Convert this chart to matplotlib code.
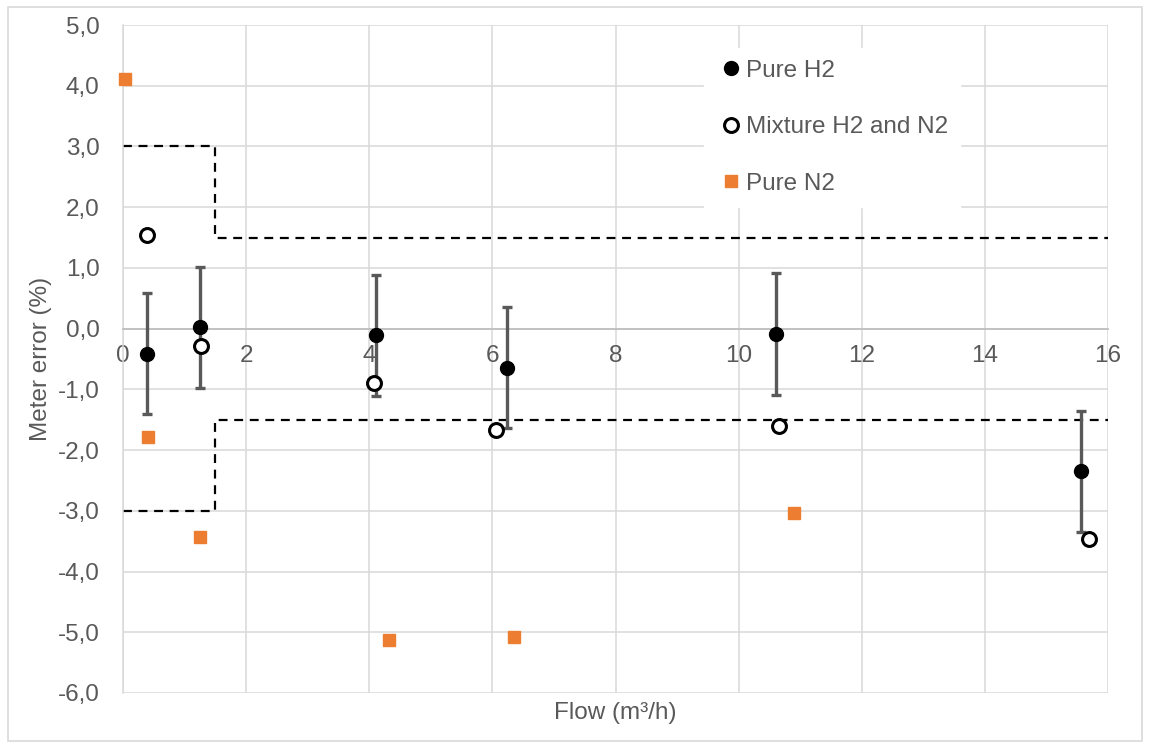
import matplotlib
matplotlib.use("Agg")
import matplotlib.pyplot as plt
from matplotlib.patches import Rectangle

plt.rcParams["font.family"] = ["Liberation Sans", "DejaVu Sans"]

# data
h2_x   = [0.39, 1.25, 4.11, 6.24, 10.61, 15.56]
h2_y   = [-0.41, 0.02, -0.11, -0.64, -0.09, -2.35]
h2_err = [1.0, 1.0, 1.0, 1.0, 1.0, 1.0]

mix_x = [0.39, 1.27, 4.08, 6.06, 10.66, 15.69]
mix_y = [1.54, -0.29, -0.90, -1.67, -1.61, -3.47]

n2_x = [0.03, 0.41, 1.25, 4.32, 6.35, 10.90]
n2_y = [4.11, -1.79, -3.43, -5.12, -5.08, -3.04]

# maximum permissible error limits
mpe_x     = [0, 1.5, 1.5, 16]
mpe_upper = [3.0, 3.0, 1.5, 1.5]
mpe_lower = [-3.0, -3.0, -1.5, -1.5]

x_ticks = [0, 2, 4, 6, 8, 10, 12, 14, 16]
y_ticks = [5, 4, 3, 2, 1, 0, -1, -2, -3, -4, -5, -6]

TXT = "#595959"
GRID = "#d9d9d9"
ORANGE = "#ED7D31"
FS = 17.5

fig = plt.figure(figsize=(11.5, 7.45), dpi=100)
ax = fig.add_axes([0.107, 0.0698, 0.8565, 0.8966])

ax.plot(mpe_x, mpe_upper, color="black", lw=1.6, ls=(0, (4, 3)), zorder=2)
ax.plot(mpe_x, mpe_lower, color="black", lw=1.6, ls=(0, (4, 3)), zorder=2)

ax.errorbar(h2_x, h2_y, yerr=h2_err, fmt="none", ecolor=TXT, elinewidth=2.4,
            capsize=3.5, capthick=2.4, zorder=3)
ax.plot(h2_x, h2_y, "o", color="black", ms=10, ls="none", label="Pure H2", zorder=5)
ax.plot(mix_x, mix_y, "o", mfc="white", mec="black", mew=2.2, ms=10, ls="none",
        label="Mixture H2 and N2", zorder=5)
ax.plot(n2_x, n2_y, "s", color=ORANGE, ms=8.5, ls="none", label="Pure N2",
        zorder=4, clip_on=False)

ax.set_xlim(0, 16)
ax.set_ylim(-6, 5)
ax.set_xticks(x_ticks)
ax.set_yticks(y_ticks)
ax.set_yticklabels([f"{v:.1f}".replace(".", ",") for v in y_ticks])
ax.grid(True, color=GRID, lw=1.1, zorder=0)
ax.set_axisbelow(True)

for s in ["top", "right"]:
    ax.spines[s].set_visible(False)
ax.spines["left"].set_color(GRID)
ax.spines["left"].set_linewidth(1.1)
ax.spines["bottom"].set_position(("data", 0))
ax.spines["bottom"].set_color("#bfbfbf")
ax.spines["bottom"].set_linewidth(1.3)

ax.tick_params(axis="both", length=0, labelsize=FS, labelcolor=TXT)
ax.tick_params(axis="x", pad=12)
ax.tick_params(axis="y", pad=17)

ax.set_ylabel("Meter error (%)", fontsize=FS, color=TXT)
ax.yaxis.set_label_coords(-0.072, 0.5)
ax.set_xlabel("Flow (m³/h)", fontsize=FS, color=TXT)
ax.xaxis.set_label_coords(0.5, -0.014)

leg = ax.legend(loc="upper left", bbox_to_anchor=(0.59, 0.966), frameon=True,
                fancybox=False, edgecolor="white", framealpha=1.0, fontsize=FS,
                labelspacing=1.42, handletextpad=0.0, handlelength=1.2,
                borderpad=0.5, borderaxespad=0)
for t in leg.get_texts():
    t.set_color(TXT)
leg.set_zorder(6)

fig.patches.append(Rectangle((0.007, 0.006), 0.986, 0.985, transform=fig.transFigure,
                             fill=False, edgecolor=GRID, lw=1.2))

fig.savefig("out.png", dpi=100)
